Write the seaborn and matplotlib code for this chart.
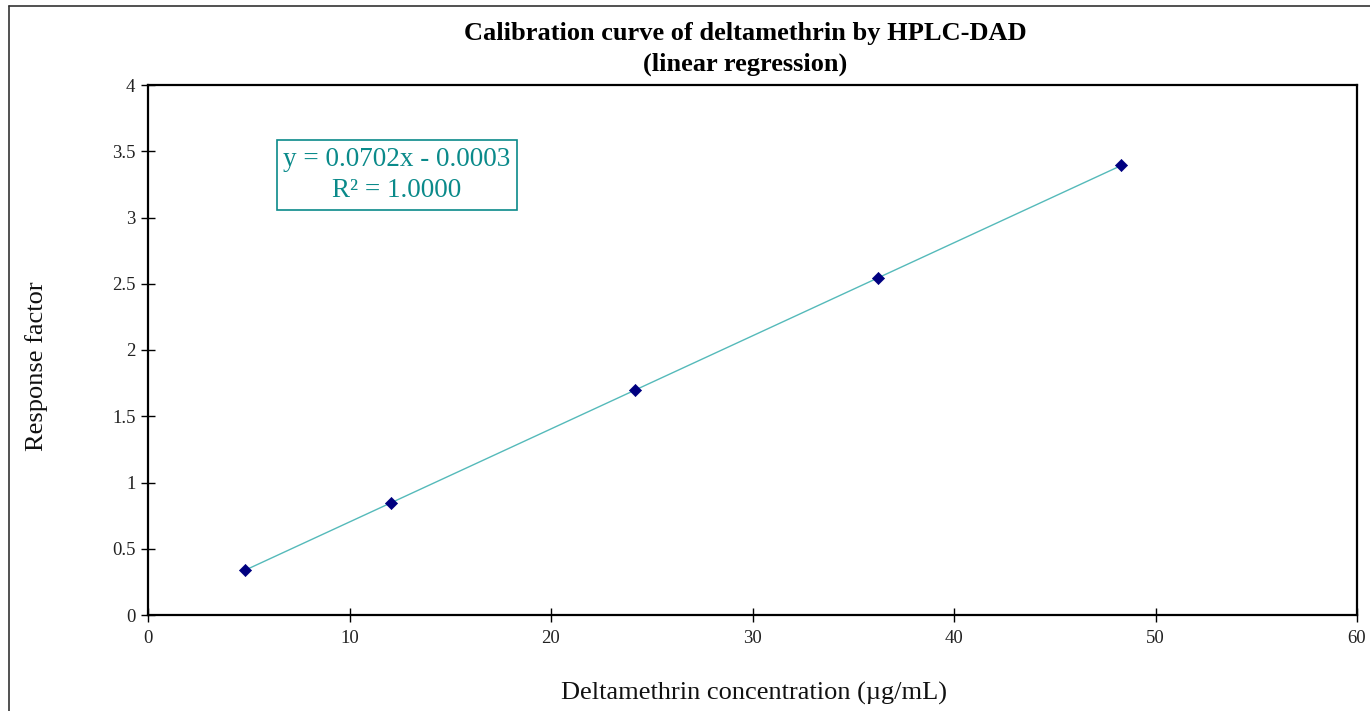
import matplotlib
matplotlib.use("Agg")
import matplotlib.pyplot as plt
import seaborn as sns
import numpy as np
import pandas as pd
from matplotlib.lines import Line2D

concentration = [4.83, 12.08, 24.15, 36.23, 48.30]
response = [0.339, 0.848, 1.697, 2.543, 3.393]
x_ticks = [0, 10, 20, 30, 40, 50, 60]
y_ticks = [0, 0.5, 1, 1.5, 2, 2.5, 3, 3.5, 4]
y_tick_labels = ["0", "0.5", "1", "1.5", "2", "2.5", "3", "3.5", "4"]
title = "Calibration curve of deltamethrin by HPLC-DAD\n(linear regression)"
x_label = "Deltamethrin concentration (\u00b5g/mL)"
y_label = "Response factor"
equation = "y = 0.0702x - 0.0003\nR\u00b2 = 1.0000"

df = pd.DataFrame({"conc": concentration, "resp": response})

sns.set_theme(style="white")
plt.rcParams["font.family"] = ["Liberation Serif", "DejaVu Serif"]

fig = plt.figure(figsize=(13.70, 7.11), dpi=100)
ax = fig.add_axes([148 / 1370, (711 - 615) / 711, (1357 - 148) / 1370, (615 - 85) / 711])

sns.regplot(data=df, x="conc", y="resp", ax=ax, scatter=False, ci=None,
            truncate=True, line_kws=dict(color="#55baba", lw=1.0, zorder=2))
sns.scatterplot(data=df, x="conc", y="resp", ax=ax, marker="D", s=38,
                color="#000080", edgecolor="#000080", linewidth=0.5, zorder=3)

ax.set_xlim(0, 60)
ax.set_ylim(0, 4)
ax.set_xticks(x_ticks)
ax.set_xticklabels([str(t) for t in x_ticks])
ax.set_yticks(y_ticks)
ax.set_yticklabels(y_tick_labels)
ax.tick_params(axis="both", which="major", bottom=True, left=True, top=False, right=False,
               direction="inout", length=10, width=1.0, color="#000000",
               labelsize=13.5, labelcolor="#222222", pad=4)
ax.tick_params(axis="x", pad=6)
for sp in ax.spines.values():
    sp.set_color("#000000")
    sp.set_linewidth(1.6)
    sp.set_visible(True)
ax.set_xlabel("")
ax.set_ylabel("")

fig.text(754 / 1370, 1 - 693 / 711, x_label, ha="center", va="center", fontsize=19, color="#111111")
fig.text(37 / 1370, 1 - 366 / 711, y_label, ha="center", va="center", rotation=90,
         fontsize=19, color="#111111")
fig.text(745 / 1370, 1 - 49 / 711, title, ha="center", va="center", fontsize=19,
         fontweight="bold", color="#000000", linespacing=1.45)

ax.text(0.206, 0.830, equation, transform=ax.transAxes, ha="center", va="center",
        fontsize=19.5, color="#0a8a8a", linespacing=1.3,
        bbox=dict(boxstyle="square,pad=0.25", facecolor="white", edgecolor="#0a8a8a", lw=1.2))

# chart border
fig.add_artist(Line2D([9 / 1370, 9 / 1370], [0, 1 - 6 / 711], transform=fig.transFigure,
                      color="#333333", lw=1.2))
fig.add_artist(Line2D([9 / 1370, 1], [1 - 6 / 711, 1 - 6 / 711], transform=fig.transFigure,
                      color="#333333", lw=1.2))

fig.savefig("out.png", dpi=100, facecolor="white")
